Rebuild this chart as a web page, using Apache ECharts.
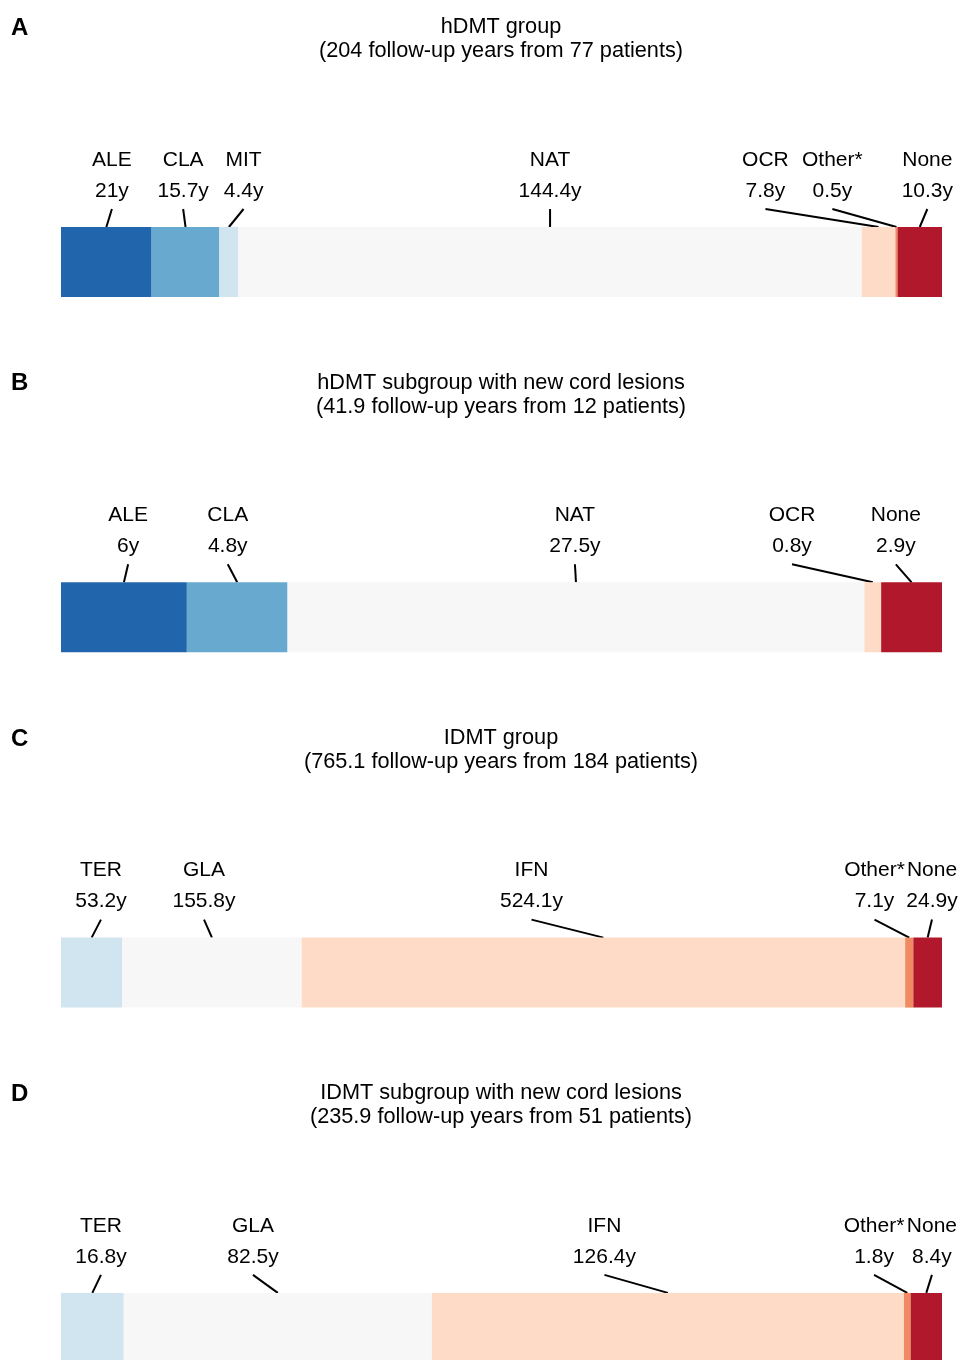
<!DOCTYPE html>
<html>
<head>
<meta charset="utf-8">
<script src="https://cdn.jsdelivr.net/npm/echarts@6/dist/echarts.min.js"></script>
<style>
html,body{margin:0;padding:0;background:#fff;}
#chart{width:963px;height:1360px;}
</style>
</head>
<body>
<div id="chart"></div>
<script>
// ---------- data ----------
const panelLetters = ['A', 'B', 'C', 'D'];
const panelTitles = [
  'hDMT group\n(204 follow-up years from 77 patients)',
  'hDMT subgroup with new cord lesions\n(41.9 follow-up years from 12 patients)',
  'IDMT group\n(765.1 follow-up years from 184 patients)',
  'IDMT subgroup with new cord lesions\n(235.9 follow-up years from 51 patients)'
];

const catsA = ['ALE', 'CLA', 'MIT', 'NAT', 'OCR', 'Other*', 'None'];
const yearsA = [21, 15.7, 4.4, 144.4, 7.8, 0.5, 10.3];
const labelAtA = [11.8, 28.3, 42.3, 113.3, 163.2, 178.7, 200.7];

const catsB = ['ALE', 'CLA', 'NAT', 'OCR', 'None'];
const yearsB = [6, 4.8, 27.5, 0.8, 2.9];
const labelAtB = [3.2, 7.95, 24.5, 34.85, 39.8];

const catsC = ['TER', 'GLA', 'IFN', 'Other*', 'None'];
const yearsC = [53.2, 155.8, 524.1, 7.1, 24.9];
const labelAtC = [34.7, 124.2, 408.6, 706.5, 756.4];

const catsD = ['TER', 'GLA', 'IFN', 'Other*', 'None'];
const yearsD = [16.8, 82.5, 126.4, 1.8, 8.4];
const labelAtD = [10.7, 51.4, 145.5, 217.7, 233.2];

const categoryColors = {
  'ALE': '#2166ac', 'CLA': '#67a9cf', 'MIT': '#d1e5f0', 'TER': '#d1e5f0',
  'NAT': '#f7f7f7', 'GLA': '#f7f7f7', 'OCR': '#fddbc7', 'IFN': '#fddbc7',
  'Other*': '#ef8a62', 'None': '#b2182b'
};

// ---------- build ----------
const panels = [
  {cats: catsA, years: yearsA, labelAt: labelAtA},
  {cats: catsB, years: yearsB, labelAt: labelAtB},
  {cats: catsC, years: yearsC, labelAt: labelAtC},
  {cats: catsD, years: yearsD, labelAt: labelAtD}
];

const FONT = '"Liberation Sans", Arial, Helvetica, sans-serif';
const barTop0 = 227, panelStep = 355.3, barH = 70;

const grids = [], xAxes = [], yAxes = [], series = [], graphics = [];

panels.forEach((p, i) => {
  const top = barTop0 + panelStep * i;
  const total = p.years.reduce((a, b) => a + b, 0);
  grids.push({left: 61, width: 881, top: top, height: barH, containLabel: false});
  xAxes.push({gridIndex: i, type: 'value', min: 0, max: total, show: false});
  yAxes.push({gridIndex: i, type: 'category', data: ['bar'], show: false});

  p.cats.forEach((c, j) => {
    series.push({
      type: 'bar', name: c, xAxisIndex: i, yAxisIndex: i, stack: 'panel' + i,
      data: [p.years[j]], barWidth: barH, silent: true,
      itemStyle: {color: categoryColors[c]}
    });
  });

  // label + leader line data: [segment centre, 0, label anchor, index]
  let cum = 0;
  const labelData = p.cats.map((c, j) => {
    const centre = cum + p.years[j] / 2;
    cum += p.years[j];
    return [centre, 0, p.labelAt[j], j];
  });

  series.push({
    type: 'custom', xAxisIndex: i, yAxisIndex: i, silent: true,
    encode: {x: 0, y: 1},
    data: labelData,
    renderItem: function (params, api) {
      const centre = api.coord([api.value(0), 0]);
      const anchor = api.coord([api.value(2), 0]);
      const j = api.value(3);
      const y0 = params.coordSys.y;
      return {
        type: 'group',
        children: [
          {type: 'text', x: anchor[0], y: y0 - 67,
            style: {text: p.cats[j], fill: '#000', font: '21px ' + FONT, align: 'center', verticalAlign: 'middle'}},
          {type: 'text', x: anchor[0], y: y0 - 36,
            style: {text: p.years[j] + 'y', fill: '#000', font: '21px ' + FONT, align: 'center', verticalAlign: 'middle'}},
          {type: 'line', shape: {x1: anchor[0], y1: y0 - 18, x2: centre[0], y2: y0},
            style: {stroke: '#000', lineWidth: 2}}
        ]
      };
    }
  });

  const titleY = 27.5 + panelStep * i;
  graphics.push({
    type: 'text', x: 501, y: titleY - 12,
    style: {text: panelTitles[i], fill: '#000', font: '21.7px ' + FONT, align: 'center', verticalAlign: 'top', lineHeight: 24}
  });
  graphics.push({
    type: 'text', x: 11, y: 28.5 + panelStep * i,
    style: {text: panelLetters[i], fill: '#000', font: 'bold 24px ' + FONT, align: 'left', verticalAlign: 'middle'}
  });
});

const chart = echarts.init(document.getElementById('chart'), null, {renderer: 'canvas'});
chart.setOption({
  animation: false,
  backgroundColor: '#fff',
  grid: grids,
  xAxis: xAxes,
  yAxis: yAxes,
  series: series,
  graphic: graphics
});
</script>
</body>
</html>
